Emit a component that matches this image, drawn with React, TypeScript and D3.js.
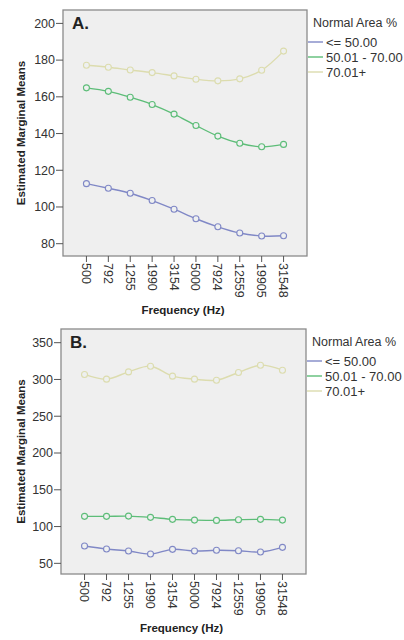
import React from 'react'
import * as d3 from 'd3'

const frequencies = ['500', '792', '1255', '1990', '3154', '5000', '7924', '12559', '19905', '31548']
const groups = ['<= 50.00', '50.01 - 70.00', '70.01+']
const colors = ['#8088c6', '#5dbd78', '#dcdcae']

// panel A
const aLow = [112.7, 110.2, 107.5, 103.5, 98.8, 93.6, 89.2, 85.8, 84.2, 84.3]
const aMid = [164.9, 163, 159.8, 155.8, 150.6, 144.4, 138.6, 134.7, 132.8, 134.1]
const aHigh = [177.2, 176.1, 174.6, 173.2, 171.4, 169.6, 168.7, 169.8, 174.5, 184.9]
const aTicks = [80, 100, 120, 140, 160, 180, 200]

// panel B
const bLow = [73.5, 69.4, 66.7, 62.6, 69, 66.7, 67.7, 67.2, 65.4, 71.7]
const bMid = [113.9, 113.9, 114.2, 112.5, 109.8, 108.8, 108.4, 109.3, 109.8, 108.8]
const bHigh = [306.8, 300.4, 310.3, 318, 304.5, 300.4, 299, 309.5, 319.4, 312.6]
const bTicks = [50, 100, 150, 200, 250, 300, 350]

const font = '"Liberation Sans", Arial, sans-serif'

type PanelProps = {
  top: number
  left: number
  right: number
  height: number
  domain: [number, number]
  ticks: number[]
  series: number[][]
  tag: string
}

const Panel = ({ top, left, right, height, domain, ticks, series, tag }: PanelProps) => {
  const x = d3.scalePoint<string>().domain(frequencies).range([left, right]).padding(1.07)
  const y = d3.scaleLinear().domain(domain).range([top + height, top])
  const bottom = top + height
  const line = d3.line<number>()
    .x((d, i) => x(frequencies[i]) as number)
    .y(d => y(d))
    .curve(d3.curveCatmullRom)

  return (
    <g>
      <rect x={left} y={top} width={right - left} height={height} fill='#efefef' stroke='#8a8a8a' strokeWidth={1.3} />
      {ticks.map(t => (
        <g key={t}>
          <line x1={left - 7} x2={left} y1={y(t)} y2={y(t)} stroke='#555' />
          <text x={left - 8} y={y(t)} dy='0.35em' textAnchor='end' fontSize={12.5} fill='#333'>{t}</text>
        </g>
      ))}
      {frequencies.map(f => (
        <g key={f}>
          <line x1={x(f)} x2={x(f)} y1={bottom} y2={bottom + 6} stroke='#555' />
          <text transform={`translate(${(x(f) as number) - 4.5},${bottom + 7}) rotate(90)`} fontSize={12.5} fill='#333'>{f}</text>
        </g>
      ))}
      {series.map((s, k) => (
        <g key={k}>
          <path d={line(s) || ''} fill='none' stroke={colors[k]} strokeWidth={1.4} />
          {s.map((v, i) => (
            <circle key={i} cx={x(frequencies[i])} cy={y(v)} r={3} fill='#eef0f0' stroke={colors[k]} strokeWidth={1.1} />
          ))}
        </g>
      ))}
      <text x={left + 9} y={top + 19} fontSize={17} fontWeight='bold' fill='#222'>{tag}</text>
      <text transform={`translate(25,${top + height / 2}) rotate(-90)`} textAnchor='middle' fontSize={11.5} fontWeight='bold' fill='#222'>Estimated Marginal Means</text>
      <text x={(left + right) / 2 - 2} y={bottom + 58} textAnchor='middle' fontSize={11.5} fontWeight='bold' fill='#222'>Frequency (Hz)</text>
      <text x={right + 6} y={top + 17} fontSize={12.5} fill='#333'>Normal Area %</text>
      {groups.map((g, k) => (
        <g key={g}>
          <line x1={right + 1} x2={right + 16} y1={top + 32 + k * 15} y2={top + 32 + k * 15} stroke={colors[k]} strokeWidth={1.4} />
          <text x={right + 19} y={top + 32 + k * 15} dy='0.35em' fontSize={13} fill='#333'>{g}</text>
        </g>
      ))}
    </g>
  )
}

export default function App () {
  return (
    <svg width={404} height={640} style={{ position: 'absolute', left: 0, top: 0, fontFamily: font }}>
      <rect width={404} height={640} fill='#fff' />
      <Panel top={10} left={63} right={307} height={246} domain={[73.3, 207.3]} ticks={aTicks} series={[aLow, aMid, aHigh]} tag='A.' />
      <Panel top={329} left={61} right={306} height={245} domain={[35.5, 368.6]} ticks={bTicks} series={[bLow, bMid, bHigh]} tag='B.' />
    </svg>
  )
}
